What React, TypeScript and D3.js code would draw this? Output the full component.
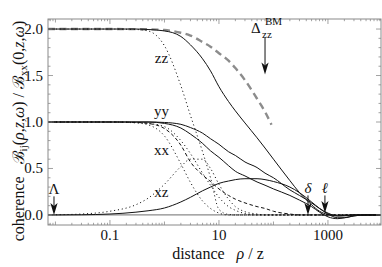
import * as d3 from 'd3';

// distance rho/z (log axis) and the normalised coherence curves
const distance = [0.0073, 0.01, 0.03, 0.1, 0.3, 0.5, 1, 2, 3, 5, 7, 10, 15, 20, 30, 50, 70, 100, 200, 300, 500, 700, 1000, 1500, 2000, 3000, 5000, 9400];

const zzSolid = [2, 2, 2, 2, 2, 1.995, 1.98, 1.92, 1.83, 1.68, 1.55, 1.38, 1.22, 1.12, 0.99, 0.83, 0.72, 0.6, 0.37, 0.24, 0.11, 0.04, 0.005, -0.01, -0.005, 0, 0, 0];
const yySolid = [1, 1, 1, 1, 1, 1, 0.995, 0.975, 0.94, 0.88, 0.82, 0.76, 0.68, 0.64, 0.57, 0.51, 0.45, 0.4, 0.27, 0.21, 0.13, 0.07, 0.02, -0.01, -0.01, 0, 0, 0];
const xxSolid = [1, 1, 1, 1, 1, 1, 0.985, 0.935, 0.87, 0.77, 0.69, 0.62, 0.53, 0.47, 0.42, 0.355, 0.32, 0.28, 0.21, 0.16, 0.09, 0.03, -0.02, -0.04, -0.03, -0.01, 0, 0];
const xzSolid = [0, 0, 0.002, 0.01, 0.03, 0.045, 0.075, 0.14, 0.19, 0.26, 0.3, 0.34, 0.365, 0.38, 0.39, 0.39, 0.38, 0.36, 0.3, 0.24, 0.14, 0.07, 0.01, -0.03, -0.03, -0.01, 0, 0];

const zzDotted = [2, 2, 2, 2, 1.995, 1.98, 1.82, 1.39, 1.07, 0.68, 0.4, 0.06, 0.005, 0, 0, 0, 0, 0, 0, 0, 0, 0, 0, 0, 0, 0, 0, 0];
const xxDotted = [1, 1, 1, 1, 0.99, 0.97, 0.85, 0.55, 0.35, 0.15, 0.07, 0.02, 0, 0, 0, 0, 0, 0, 0, 0, 0, 0, 0, 0, 0, 0, 0, 0];
const yyDotted = [1, 1, 1, 1, 0.995, 0.985, 0.95, 0.8, 0.66, 0.45, 0.32, 0.19, 0.09, 0.05, 0.015, 0, 0, 0, 0, 0, 0, 0, 0, 0, 0, 0, 0, 0];
const xzDotted = [0, 0.002, 0.01, 0.04, 0.11, 0.18, 0.33, 0.52, 0.6, 0.6, 0.5, 0.33, 0.17, 0.09, 0.035, 0.01, 0, 0, 0, 0, 0, 0, 0, 0, 0, 0, 0, 0];
const yyDashed = [1, 1, 1, 1, 0.995, 0.985, 0.93, 0.75, 0.57, 0.43, 0.36, 0.28, 0.21, 0.17, 0.13, 0.09, 0.07, 0.04, 0.01, 0, 0, 0, 0, 0, 0, 0, 0, 0];

// thick gray dashed curve (Delta_zz^BM), stops at rho/z ~ 90
const bmDistance = [0.0073, 0.1, 0.5, 1, 2, 3, 5, 7, 10, 15, 20, 30, 50, 70, 92];
const bmZz = [2, 2, 1.997, 1.99, 1.96, 1.93, 1.86, 1.81, 1.74, 1.66, 1.58, 1.45, 1.25, 1.11, 0.97];

const curveLabels = [
  { text: 'zz', x: 1.0, y: 1.64 },
  { text: 'yy', x: 1.0, y: 1.06 },
  { text: 'xx', x: 1.0, y: 0.64 },
  { text: 'xz', x: 1.0, y: 0.19 },
];

const markers = [
  { label: 'Λ', x: 0.0094, from: 0.2, to: 0, italic: false },
  { label: 'δ', x: 430, from: 0.21, to: 0, italic: true },
  { label: 'ℓ', x: 880, from: 0.21, to: 0.02, italic: true },
];
const bmMarker = { x: 70, from: 1.91, to: 1.51 };

const xTickLabels = [0.1, 10, 1000];
const yTickLabels = [0, 0.5, 1, 1.5, 2];

const serif = '"Liberation Serif", "Times New Roman", "DejaVu Serif", serif';
const frameColor = '#8a8a8a';

export default function App() {
  const width = 382;
  const height = 267;
  const x = d3.scaleLog().domain([0.0073, 9400]).range([48, 381]);
  const y = d3.scaleLinear().domain([-0.108, 2.108]).range([225, 19]);

  const line = d3.line<[number, number]>()
    .x((d) => x(d[0]))
    .y((d) => y(d[1]))
    .curve(d3.curveMonotoneX);

  const toPts = (xs: number[], ys: number[]) => xs.map((v, i) => [v, ys[i]] as [number, number]);

  const series = [
    { pts: toPts(bmDistance, bmZz), stroke: '#8c8c8c', w: 2.4, dash: '7 4.5' },
    { pts: toPts(distance, zzDotted), stroke: '#111', w: 1, dash: '1.1 2.8' },
    { pts: toPts(distance, xxDotted), stroke: '#111', w: 1, dash: '1.1 2.8' },
    { pts: toPts(distance, yyDotted), stroke: '#111', w: 1, dash: '1.1 2.8' },
    { pts: toPts(distance, xzDotted), stroke: '#111', w: 1, dash: '1.1 2.8' },
    { pts: toPts(distance, yyDashed), stroke: '#111', w: 1, dash: '3.5 2.5' },
    { pts: toPts(distance, zzSolid), stroke: '#111', w: 1, dash: undefined },
    { pts: toPts(distance, yySolid), stroke: '#111', w: 1, dash: undefined },
    { pts: toPts(distance, xxSolid), stroke: '#111', w: 1, dash: undefined },
    { pts: toPts(distance, xzSolid), stroke: '#111', w: 1, dash: undefined },
  ];

  // log ticks for the frame
  const [x0, x1] = x.domain();
  const xTicks: { v: number; major: boolean; decade: boolean }[] = [];
  for (let k = -3; k <= 4; k++) {
    for (let m = 1; m <= 9; m++) {
      const v = m * Math.pow(10, k);
      if (v < x0 || v > x1) continue;
      xTicks.push({ v, major: m === 1 && xTickLabels.some((t) => Math.abs(t - v) / v < 1e-6), decade: m === 1 });
    }
  }
  const yTicks = d3.range(-1, 22).map((i) => ({ v: i / 10, major: i % 5 === 0 }));

  const arrowHead = (px: number, tip: number) =>
    `${px},${tip} ${px - 3.6},${tip - 12} ${px},${tip - 9} ${px + 3.6},${tip - 12}`;

  const [left, right] = x.range();
  const [bottom, top] = y.range();

  return (
    <svg
      width={width}
      height={height}
      style={{ position: 'absolute', left: 0, top: 0, background: '#fff' }}
      fontFamily={serif}
    >
      {/* zero axis line */}
      <line x1={left} x2={right} y1={y(0)} y2={y(0)} stroke={frameColor} strokeWidth={1.2} />

      {series.map((s, i) => (
        <path
          key={i}
          d={line(s.pts) || ''}
          fill="none"
          stroke={s.stroke}
          strokeWidth={s.w}
          strokeDasharray={s.dash}
        />
      ))}

      {/* frame */}
      <rect x={left} y={top} width={right - left} height={bottom - top} fill="none" stroke={frameColor} strokeWidth={1} />
      {xTicks.map((t, i) => {
        const len = t.major ? 5 : t.decade ? 3.5 : 2.2;
        const px = x(t.v);
        return (
          <g key={'xt' + i} stroke={frameColor} strokeWidth={0.8}>
            <line x1={px} x2={px} y1={bottom} y2={bottom - len} />
            <line x1={px} x2={px} y1={top} y2={top + len} />
          </g>
        );
      })}
      {yTicks.map((t, i) => {
        const len = t.major ? 5 : 2.5;
        const py = y(t.v);
        return (
          <g key={'yt' + i} stroke={frameColor} strokeWidth={0.8}>
            <line x1={left} x2={left + len} y1={py} y2={py} />
            <line x1={right} x2={right - len} y1={py} y2={py} />
          </g>
        );
      })}

      {xTickLabels.map((v) => (
        <text key={'xl' + v} x={x(v)} y={240} fontSize={15} textAnchor="middle" fill="#111">
          {String(v)}
        </text>
      ))}
      {yTickLabels.map((v) => (
        <text key={'yl' + v} x={43} y={y(v) + 5} fontSize={15} textAnchor="end" fill="#111">
          {v.toFixed(1)}
        </text>
      ))}

      {/* curve labels */}
      {curveLabels.map((l) => (
        <text key={l.text} x={x(l.x) - 3} y={y(l.y)} fontSize={15} textAnchor="middle" fill="#111">
          {l.text}
        </text>
      ))}

      {/* arrows at the bottom */}
      {markers.map((m) => {
        const px = x(m.x);
        const start = y(m.from);
        const tip = y(m.to);
        return (
          <g key={m.label}>
            <line x1={px} x2={px} y1={start} y2={tip - 9} stroke="#111" strokeWidth={1} />
            <polygon points={arrowHead(px, tip)} fill="#111" />
            <text x={px} y={start - 2} fontSize={15} textAnchor="middle" fontStyle={m.italic ? 'italic' : 'normal'} fill="#111">
              {m.label}
            </text>
          </g>
        );
      })}

      {/* Delta_zz^BM arrow */}
      <g>
        <line x1={x(bmMarker.x)} x2={x(bmMarker.x)} y1={y(bmMarker.from)} y2={y(bmMarker.to) - 9} stroke="#111" strokeWidth={1} />
        <polygon points={arrowHead(x(bmMarker.x), y(bmMarker.to))} fill="#111" />
        <text x={x(bmMarker.x) - 14} y={y(bmMarker.from) - 4} fontSize={15} fill="#111">
          Δ
        </text>
        <text x={x(bmMarker.x) - 3} y={y(bmMarker.from) + 1} fontSize={11} fill="#111">
          zz
        </text>
        <text x={x(bmMarker.x)} y={y(bmMarker.from) - 12} fontSize={11} fill="#111">
          BM
        </text>
      </g>

      {/* axis titles */}
      <text x={218} y={259} fontSize={16} textAnchor="middle" fill="#111">
        distance
        <tspan dx={12} fontStyle="italic">ρ</tspan>
        <tspan> / z</tspan>
      </text>
      <text transform="translate(24,131) rotate(-90)" fontSize={16} textAnchor="middle" fill="#111">
        coherence
        <tspan dx={12}>ℬ</tspan>
        <tspan fontSize={11} dy={3}>ij</tspan>
        <tspan dy={-3}>(</tspan>
        <tspan fontStyle="italic">ρ</tspan>
        <tspan>,</tspan>
        <tspan fontStyle="italic">z</tspan>
        <tspan>,</tspan>
        <tspan fontStyle="italic">ω</tspan>
        <tspan>) / ℬ</tspan>
        <tspan fontSize={11} dy={3}>xx</tspan>
        <tspan dy={-3}>(0,</tspan>
        <tspan fontStyle="italic">z</tspan>
        <tspan>,</tspan>
        <tspan fontStyle="italic">ω</tspan>
        <tspan>)</tspan>
      </text>
    </svg>
  );
}
